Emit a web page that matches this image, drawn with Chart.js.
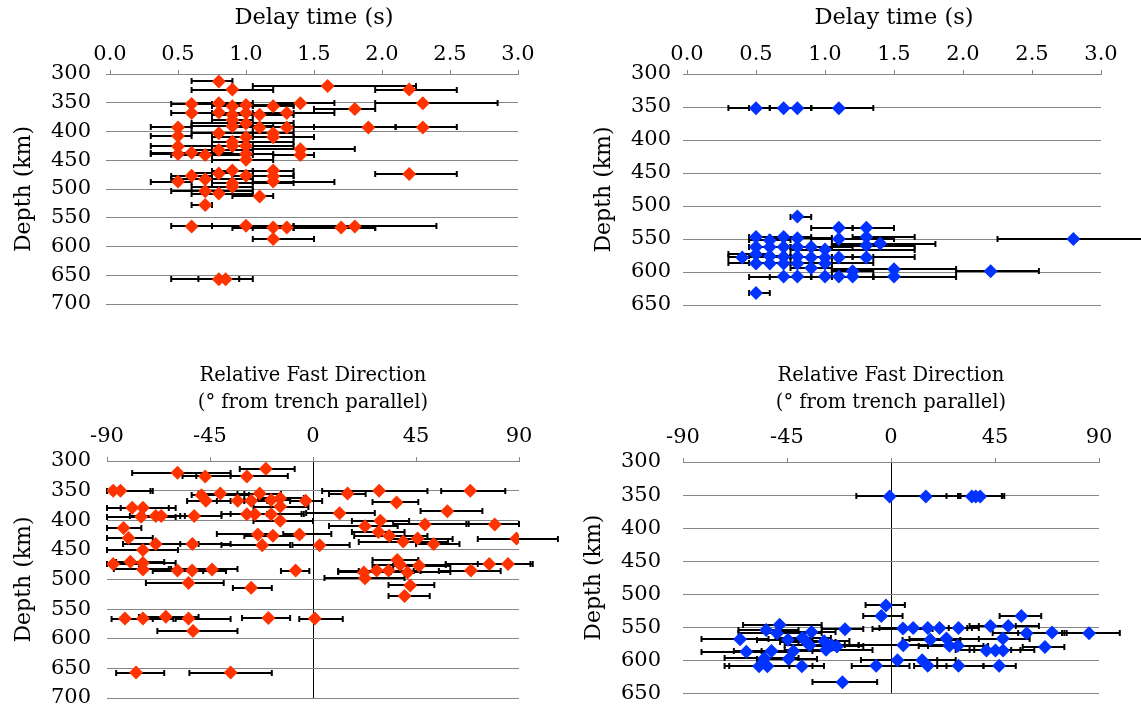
<!DOCTYPE html>
<html><head><meta charset="utf-8">
<script src="https://cdn.jsdelivr.net/npm/chart.js@4.4.0/dist/chart.umd.min.js"></script>
<style>
html,body{margin:0;padding:0;background:#fff;width:1141px;height:708px;overflow:hidden;position:relative}
canvas{position:absolute}
</style></head><body>
<canvas id="c1" width="570" height="354" style="left:0;top:0;width:570px;height:354px"></canvas>
<canvas id="c2" width="571" height="354" style="left:570px;top:0;width:571px;height:354px"></canvas>
<canvas id="c3" width="570" height="374" style="left:0;top:354px;width:570px;height:374px"></canvas>
<canvas id="c4" width="571" height="374" style="left:570px;top:354px;width:571px;height:374px"></canvas>
<script>
// ---------- Panel 1: delay time, red ----------
const p1Depth = [313,321,327,327,352,351,356,354,356,351,351,361,368,367,371,368,371,368,380,386,391,393,393,393,393,393,403,408,403,410,410,418,425,425,426,432,431,439,437,441,439,441,449,468,468,474,477,473,477,478,483,487,487,490,496,504,508,513,528,565,564,567,567,567,565,587,657,657];
const p1Delay = [.8,1.6,.9,2.2,.6,.8,.9,1.0,1.2,1.4,2.3,1.8,.6,.8,.9,1.0,1.1,1.3,.9,1.0,.9,.5,1.1,1.3,1.9,2.3,.8,.5,1.2,1.2,1.0,.9,.9,1.0,.5,.8,1.4,.5,.6,.7,1.0,1.4,1.0,.9,1.2,2.2,.6,.8,1.0,1.2,.7,.5,1.2,.9,.9,.7,.8,1.1,.7,.6,1.0,1.2,1.3,1.7,1.8,1.2,.8,.85];
const p1Low = [.6,1.05,.6,1.95,.45,.6,.75,.75,1.05,1.2,1.95,1.5,.45,.6,.75,.75,.9,1.05,.75,.6,.6,.3,.9,1.05,1.5,2.1,.6,.3,1.05,1.05,.75,.75,.75,.75,.3,.6,1.05,.3,.3,.45,.75,1.2,.75,.75,1.05,1.95,.45,.6,.9,1.05,.45,.3,1.05,.75,.6,.45,.6,.9,.6,.45,.75,.9,1.05,1.35,1.35,1.05,.45,.65];
const p1High = [.9,2.25,1.2,2.55,.75,1.05,1.05,1.35,1.35,1.65,2.85,1.95,.75,.9,1.05,1.35,1.35,1.65,1.05,1.35,1.2,.6,1.35,1.5,2.1,2.55,1.05,.6,1.35,1.5,1.35,1.35,1.05,1.35,.75,1.05,1.8,.6,.9,1.05,1.2,1.5,1.2,1.05,1.35,2.55,.75,.9,1.35,1.35,1.05,.6,1.65,1.35,1.05,1.05,1.05,1.2,.75,.75,1.35,1.35,1.95,1.95,2.4,1.5,.95,1.05];

// ---------- Panel 2: delay time, blue ----------
const p2Depth = [352,352,352,352,516,533,533,547,552,547,549,550,547,550,557,562,562,562,562,562,566,560,578,573,576,577,577,578,578,578,578,587,587,587,587,594,587,599,596,599,607,607,607,607,607,607,632];
const p2Delay = [.5,.7,.8,1.1,.8,1.1,1.3,.5,.6,.7,.8,1.1,1.3,2.8,1.4,.5,.6,.7,.8,.9,1.0,1.3,.4,.5,.6,.7,.8,.9,1.0,1.1,1.3,.5,.6,.7,.8,.9,1.0,1.2,1.5,2.2,.7,.8,1.0,1.1,1.2,1.5,.5];
const p2Low = [.3,.45,.6,.9,.75,.9,1.2,.45,.45,.6,.6,.9,1.2,2.25,1.05,.45,.45,.6,.6,.75,.75,1.05,.3,.3,.45,.6,.6,.75,.75,.9,1.05,.3,.45,.6,.6,.75,.9,1.05,1.05,1.95,.45,.6,.9,.9,1.05,1.35,.45];
const p2High = [.6,.9,.9,1.35,.9,1.2,1.5,.6,.75,.9,1.05,1.5,1.65,3.3,1.8,.6,.75,.9,1.05,1.2,1.65,1.65,.6,.6,.75,.9,1.05,1.2,1.35,1.2,1.65,.6,.75,.9,1.05,1.05,1.35,1.35,1.95,2.55,.9,1.05,1.2,1.35,1.35,1.95,.6];

// ---------- Panel 3: fast direction, red ----------
const p3Depth = [313,320,326,326,350,350,358,355,355,355,350,350,367,367,367,366,363,367,370,379,379,377,394,393,393,393,390,390,390,401,388,385,401,410,407,407,413,420,430,424,426,424,426,431,436,431,440,440,440,442,442,450,474,470,472,483,485,485,483,485,467,475,477,474,474,485,488,485,485,488,498,506,510,514,528,566,566,563,566,565,566,587,657,657];
const p3Dir = [-20.6,-59.2,-47.1,-28.9,-87.3,-84.1,-48.7,-40.5,-23.3,15.1,28.9,68.7,-46.8,-32.9,-27,-18.3,-14.3,-3.2,36.5,-79,-74.3,-14.3,-75.1,-68.7,-66.3,-51.9,-28.9,-25.4,-18.3,-14.3,11.6,58.7,29.4,22.7,48.9,79.4,-82.8,28.6,-80.6,-24.1,-17.5,-5.9,33.3,88.9,39.4,45.7,52.7,-68.7,-52.7,-22.2,2.9,-74.3,-87.3,-79.8,-74.3,-74.3,-59.2,-52.8,-44.1,-7.6,36.8,38.1,46.3,77,85.2,69,22.2,27.8,33,41.3,22.7,-54.4,42.5,-27,40,-82.2,-74.3,-64.3,-54.4,-19.5,0.8,-52.4,-77.3,-36];
const p3Low = [-32,-79,-57,-51,-90,-90,-53,-50,-33,7,4,56,-55,-42,-36,-30,-24,-10,26,-90,-84,-26,-90,-80,-74,-58,-40,-36,-30,-26,-3,47,17,7,35,67,-90,17,-90,-42,-30,-13,18,72,20,34,45,-83,-58,-40,-9,-90,-90,-86,-80,-87,-70,-60,-63,-14,26,26,35,58,72,55,11,11,20,28,5,-73,33,-35,33,-88,-81,-76,-60,-31,-6,-68,-86,-54];
const p3High = [-8,-36,-36,-11,-71,-70,-28,-30,-14,23,50,84,-30,-20,-14,-10,-4,4,46,-63,-60,-2,-60,-56,-53,-40,-20,-5,-4,0,27,74,42,37,68,90,-75,40,-70,-18,-5,8,50,107,59,61,64,-50,-36,-10,16,-59,-76,-65,-60,-62,-48,-38,-33,-1.6,46,58,60,95,96,82,34,44,47,60,40,-39,53,-18,51,-70,-61,-50,-36,-10,13,-33,-65,-18];

// ---------- Panel 4: fast direction, blue ----------
const p4Depth = [352,352,352,352,352,517,533,533,546,554,559,553,557,552,551,551,551,551,548,548,559,558,559,568,569,566,572,577,571,577,579,569,567,567,577,578,578,587,586,586,584,585,585,585,580,598,597,609,609,609,608,600,600,608,608,608,633];
const p4Dir = [-0.6,15.1,35,36.7,38.6,-2.2,-4.2,56.4,-48.2,-54,-49.3,-19.9,-34.4,5.2,9.6,15.9,21,29.2,43,50.7,58.7,69.7,85.7,-65.3,-44.6,-38.3,-36.7,-35.2,-28.9,-25.7,-23.4,17,24,48.4,5.3,25.3,28.9,-62.6,-51.7,-42.2,-28.1,41.3,45.2,48.5,66.6,-44.3,-54.8,-57.1,-53.5,-38.6,-6.4,2.8,13.5,15.9,29.2,46.8,-21];
const p4Low = [-15,0,24,29,30,-11,-12,47,-64,-66,-66,-30,-50,-8,-5,4,10,15,34,38,44,55,75,-82,-58,-50,-48,-46,-40,-36,-34,5,8,38,-14,12,16,-82,-68,-56,-46,28,34,36,57,-58,-72,-72,-70,-54,-17,-13,4,10,20,40,-34];
const p4High = [15,30,48,48,49,6,5,65,-30,-40,-30,-12,-24,18,25,33,35,38,54,64,74,76,99,-53,-34,-26,-24,-20,-18,-14,-12,30,47,60,24,40,42,-44,-34,-28,-8,52,56,62,75,-32,-40,-44,-34,-29,8,20,28,24,40,54,-6];

// ---------- labels ----------
const delayTitle = 'Delay time (s)';
const dirTitle = ['Relative Fast Direction', '(\u00B0 from trench parallel)'];
const depthTitle = 'Depth (km)';

const RED = '#FF3300', BLUE = '#0033FF', GRID = '#868686';

Chart.defaults.font.family = "'DejaVu Serif', serif";
Chart.defaults.color = '#000';

const errorBars = {
  id: 'errorBars',
  beforeDatasetsDraw(chart) {
    const ds = chart.data.datasets[0];
    const meta = chart.getDatasetMeta(0);
    const xs = chart.scales.x;
    const ctx = chart.ctx;
    ctx.save();
    ctx.strokeStyle = '#000';
    ctx.lineWidth = 2;
    meta.data.forEach((pt, i) => {
      const y = Math.round(pt.y);
      const x1 = xs.getPixelForValue(ds.errLow[i]);
      const x2 = xs.getPixelForValue(ds.errHigh[i]);
      ctx.beginPath();
      ctx.moveTo(x1, y); ctx.lineTo(x2, y);
      ctx.moveTo(x1, y - 3); ctx.lineTo(x1, y + 3);
      ctx.moveTo(x2, y - 3); ctx.lineTo(x2, y + 3);
      ctx.stroke();
    });
    ctx.restore();
  }
};

function makeChart(id, o) {
  const pts = o.depth.map((d, i) => ({x: o.vals[i], y: d}));
  return new Chart(document.getElementById(id), {
    type: 'scatter',
    data: { datasets: [{
      data: pts, errLow: o.low, errHigh: o.high,
      pointStyle: 'rectRot', pointRadius: 7, pointHoverRadius: 7,
      backgroundColor: o.color, borderWidth: 0
    }]},
    options: {
      responsive: false, animation: false, devicePixelRatio: 1,
      events: [],
      layout: { padding: o.pad },
      plugins: { legend: {display: false}, tooltip: {enabled: false} },
      scales: {
        x: {
          type: 'linear', position: 'top', min: o.xMin, max: o.xMax,
          ticks: { stepSize: o.xStep, autoSkip: false, maxRotation: 0, padding: o.xTickPad,
                   font: {size: 21}, color: '#000', callback: o.xFmt },
          grid: { drawOnChartArea: o.zero, lineWidth: 1,
                  color: c => (o.zero && c.tick && c.tick.value === 0) ? '#000' : 'rgba(0,0,0,0)',
                  drawTicks: true, tickLength: 4, tickColor: GRID, tickWidth: 1 },
          border: { display: true, color: GRID, width: 1 },
          title: { display: true, text: o.title, padding: 0, color: '#000',
                   font: {size: o.tSize, lineHeight: o.tLH} },
          afterFit(s) { s.height = o.xH; }
        },
        y: {
          type: 'linear', reverse: true, min: 300, max: o.yMax,
          ticks: { stepSize: 50, autoSkip: false, padding: o.yTickPad, font: {size: 21}, color: '#000' },
          grid: { color: GRID, lineWidth: 1, drawTicks: o.yTicks, tickLength: 4, tickColor: GRID },
          border: { display: false },
          title: { display: true, text: depthTitle, padding: 0, color: '#000', font: {size: 22, lineHeight: 1.2} },
          afterFit(s) { s.width = o.yW; }
        }
      }
    },
    plugins: [errorBars]
  });
}

const fmtDelay = v => Number(v).toFixed(1);
const fmtDir = v => String(v);

makeChart('c1', { depth: p1Depth, vals: p1Delay, low: p1Low, high: p1High, color: RED,
  xMin: 0, xMax: 3, xStep: 0.5, xFmt: fmtDelay, yMax: 700, title: delayTitle, tSize: 22.5, tLH: 1.2,
  pad: {left: 11, top: 5, right: 52, bottom: 50}, yW: 99, xH: 69, yTickPad: 15, yTicks: true, xTickPad: 3, zero: false });

makeChart('c2', { depth: p2Depth, vals: p2Delay, low: p2Low, high: p2High, color: BLUE,
  xMin: 0, xMax: 3, xStep: 0.5, xFmt: fmtDelay, yMax: 650, title: delayTitle, tSize: 22.5, tLH: 1.2,
  pad: {left: 21, top: 5, right: 40, bottom: 49}, yW: 96, xH: 69, yTickPad: 12, yTicks: true, xTickPad: 3, zero: false });

makeChart('c3', { depth: p3Depth, vals: p3Dir, low: p3Low, high: p3High, color: RED,
  xMin: -90, xMax: 90, xStep: 45, xFmt: fmtDir, yMax: 700, title: dirTitle, tSize: 19.5, tLH: 1.385,
  pad: {left: 11, top: 8, right: 51, bottom: 30}, yW: 96, xH: 99, yTickPad: 16, yTicks: false, xTickPad: 8, zero: true });

makeChart('c4', { depth: p4Depth, vals: p4Dir, low: p4Low, high: p4High, color: BLUE,
  xMin: -90, xMax: 90, xStep: 45, xFmt: fmtDir, yMax: 650, title: dirTitle, tSize: 19.5, tLH: 1.385,
  pad: {left: 11, top: 8, right: 42, bottom: 32}, yW: 102, xH: 100, yTickPad: 22, yTicks: false, xTickPad: 8, zero: true });
</script>
</body></html>
